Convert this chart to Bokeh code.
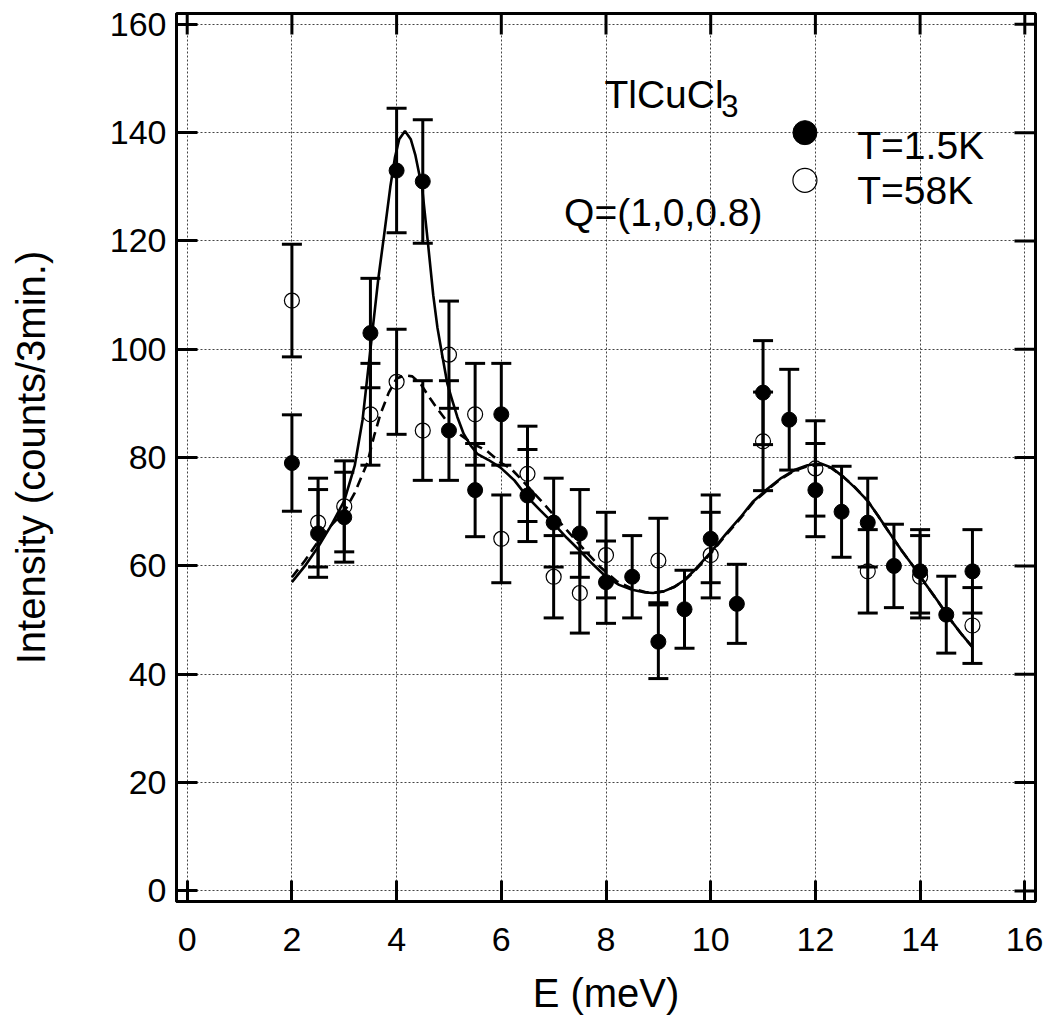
from bokeh.plotting import figure
from bokeh.models import Range1d, Whisker, ColumnDataSource, TeeHead, FixedTicker
from bokeh.core.properties import value
from bokeh.embed import file_html
from bokeh.resources import INLINE

# ---------------- data ----------------
E_1p5K = [2, 2.5, 3, 3.5, 4, 4.5, 5, 5.5, 6, 6.5, 7, 7.5, 8, 8.5, 9, 9.5, 10, 10.5,
          11, 11.5, 12, 12.5, 13, 13.5, 14, 14.5, 15]
I_1p5K = [79, 66, 69, 103, 133, 131, 85, 74, 88, 73, 68, 66, 57, 58, 46, 52, 65, 53,
          92, 87, 74, 70, 68, 60, 59, 51, 59]
dI_1p5K = [8.9, 8.1, 8.3, 10.1, 11.5, 11.4, 9.2, 8.6, 9.4, 8.5, 8.2, 8.1, 7.6, 7.6, 6.8, 7.2,
           8.1, 7.3, 9.6, 9.3, 8.6, 8.4, 8.2, 7.7, 7.7, 7.1, 7.7]

E_58K = [2, 2.5, 3, 3.5, 4, 4.5, 5, 5.5, 6, 6.5, 7, 7.5, 8, 9, 10, 11, 12, 13, 14, 15]
I_58K = [109, 68, 71, 88, 94, 85, 99, 88, 65, 77, 58, 55, 62, 61, 62, 83, 78, 59, 58, 49]
dI_58K = [10.4, 8.2, 8.4, 9.4, 9.7, 9.2, 9.9, 9.4, 8.1, 8.8, 7.6, 7.4, 7.9, 7.8, 7.9, 9.1,
          8.8, 7.7, 7.6, 7.0]

fit_E_1p5K = [2.0, 2.25, 2.5, 2.75, 3.0, 3.2, 3.35, 3.5, 3.65, 3.76, 3.88, 3.97, 4.05, 4.16,
              4.27, 4.36, 4.49, 4.6, 4.7, 4.78, 4.87, 4.97, 5.05, 5.16, 5.28, 5.41, 5.54,
              5.75, 5.98, 6.25, 6.5, 6.75, 7.0, 7.25, 7.5, 7.75, 8.0, 8.25, 8.5, 8.75, 8.9,
              9.1, 9.3, 9.5, 9.7, 10.0, 10.3, 10.57, 10.8, 11.08, 11.33, 11.6, 11.85, 12.1,
              12.3, 12.54, 12.75, 13.0, 13.2, 13.43, 13.65, 13.88, 14.1, 14.33, 14.6, 14.8, 15.0]
fit_I_1p5K = [57.0, 60.0, 63.5, 67.5, 72.0, 78.5, 87.0, 100.0, 113.0, 121.0, 130.0, 135.5,
              138.8, 140.3, 138.8, 135.8, 129.6, 119.5, 110.0, 104.0, 99.0, 93.6, 91.0, 87.5,
              84.4, 82.3, 80.7, 79.6, 78.2, 75.8, 72.7, 70.2, 67.8, 65.2, 62.8, 60.3, 58.0,
              56.5, 55.6, 55.1, 55.0, 55.3, 56.1, 57.4, 59.3, 62.5, 66.0, 69.0, 71.8, 74.2,
              76.1, 77.7, 78.6, 78.9, 78.2, 76.4, 74.5, 72.0, 69.2, 65.9, 62.8, 59.8, 56.7,
              53.6, 49.8, 47.3, 45.0]

fit_E_58K = [2.0, 2.25, 2.5, 2.75, 3.0, 3.2, 3.44, 3.57, 3.69, 3.85, 4.0, 4.15, 4.3, 4.46,
             4.6, 4.78, 5.0, 5.22, 5.45, 5.73, 6.0, 6.18, 6.4, 6.81, 7.26, 7.6, 7.89, 8.2,
             8.5, 8.75, 8.9, 9.1, 9.3, 9.5, 9.7, 10.0, 10.3, 10.57, 10.8, 11.08, 11.33, 11.6,
             11.85, 12.1, 12.3, 12.54, 12.75, 13.0, 13.2, 13.43, 13.65, 13.88, 14.1, 14.33,
             14.6, 14.8, 15.0]
fit_I_58K = [57.9, 61.0, 64.5, 67.5, 70.0, 73.5, 79.0, 84.0, 88.0, 92.0, 94.6, 95.2, 95.0,
             93.6, 91.5, 89.0, 86.2, 84.2, 82.6, 81.2, 79.0, 78.0, 75.8, 71.5, 66.5, 62.8,
             59.8, 57.2, 55.8, 55.2, 55.0, 55.3, 56.1, 57.3, 59.1, 62.3, 65.8, 68.8, 71.6,
             74.0, 76.0, 77.6, 78.4, 78.7, 78.1, 76.4, 74.6, 72.0, 69.2, 65.9, 62.8, 59.8,
             56.7, 53.6, 49.8, 47.3, 45.0]

x_ticks = [0, 2, 4, 6, 8, 10, 12, 14, 16]
y_ticks = [0, 20, 40, 60, 80, 100, 120, 140, 160]
x_label = "E (meV)"
y_label = "Intensity (counts/3min.)"
compound = "TlCuCl"
compound_sub = "3"
q_text = "Q=(1,0,0.8)"
legend_labels = ["T=1.5K", "T=58K"]

# ---------------- layout / style ----------------
FONT = "Liberation Sans"
TXT = "39px"
FW, FH = 859, 888
X_LO, X_HI = -0.2045, 16.2045
Y_LO, Y_HI = -1.96, 162.0
TICK = 21  # px, inward

p = figure(frame_width=FW, frame_height=FH,
           x_range=Range1d(X_LO, X_HI), y_range=Range1d(Y_LO, Y_HI),
           output_backend="svg", toolbar_location=None,
           min_border_left=176, min_border_right=8, min_border_top=13, min_border_bottom=118,
           background_fill_color="white", border_fill_color="white")

xax = p.xaxis[0]
yax = p.yaxis[0]
xax.ticker = FixedTicker(ticks=x_ticks)
yax.ticker = FixedTicker(ticks=y_ticks)

for ax in (xax, yax):
    ax.major_tick_in = TICK
    ax.major_tick_out = 0
    ax.minor_tick_in = 0
    ax.minor_tick_out = 0
    ax.major_tick_line_width = 3
    ax.major_tick_line_color = "black"
    ax.axis_line_width = 3
    ax.axis_line_color = "black"
    ax.major_label_text_font = FONT
    ax.major_label_text_font_size = "34px"
    ax.major_label_text_color = "black"
    ax.axis_label_text_font = FONT
    ax.axis_label_text_font_size = "40px"
    ax.axis_label_text_font_style = "normal"
    ax.axis_label_text_color = "black"

xax.axis_label = x_label
xax.major_label_standoff = 26
xax.axis_label_standoff = 17
yax.axis_label = y_label
yax.major_label_standoff = 10
yax.axis_label_standoff = 54

p.xgrid.ticker = FixedTicker(ticks=x_ticks)
p.ygrid.ticker = FixedTicker(ticks=y_ticks)
for g in (p.xgrid, p.ygrid):
    g.grid_line_color = "#444444"
    g.grid_line_dash = "2 2"
    g.grid_line_width = 1

p.outline_line_color = "black"
p.outline_line_width = 3

# mirrored inward ticks on the top and right edges
dx_tick = TICK * (X_HI - X_LO) / FW
dy_tick = TICK * (Y_HI - Y_LO) / FH
p.segment(x0=[X_HI] * len(y_ticks), x1=[X_HI - dx_tick] * len(y_ticks),
          y0=y_ticks, y1=y_ticks, line_color="black", line_width=3)
p.segment(x0=x_ticks, x1=x_ticks, y0=[Y_HI] * len(x_ticks), y1=[Y_HI - dy_tick] * len(x_ticks),
          line_color="black", line_width=3)

# error bars
src1 = ColumnDataSource(dict(x=E_1p5K, y=I_1p5K,
                             lo=[a - b for a, b in zip(I_1p5K, dI_1p5K)],
                             hi=[a + b for a, b in zip(I_1p5K, dI_1p5K)]))
src2 = ColumnDataSource(dict(x=E_58K, y=I_58K,
                             lo=[a - b for a, b in zip(I_58K, dI_58K)],
                             hi=[a + b for a, b in zip(I_58K, dI_58K)]))
for src in (src2, src1):
    w = Whisker(source=src, base="x", upper="hi", lower="lo",
                line_width=3, line_color="black",
                upper_head=TeeHead(size=20, line_width=3, line_color="black"),
                lower_head=TeeHead(size=20, line_width=3, line_color="black"))
    w.level = "glyph"
    p.add_layout(w)

# fit curves
p.line(fit_E_1p5K, fit_I_1p5K, line_color="black", line_width=2.6)
p.line(fit_E_58K, fit_I_58K, line_color="black", line_width=2.6, line_dash="10 6")

# data points
p.scatter(x="x", y="y", source=src2, size=15, marker="circle",
          fill_color=None, line_color="black", line_width=1.2)
p.scatter(x="x", y="y", source=src1, size=15, marker="circle",
          fill_color="black", line_color="black")

# legend (manual keys)
p.scatter(x=[11.8], y=[140.0], size=24, marker="circle", fill_color="black", line_color="black")
p.scatter(x=[11.8], y=[131.2], size=24, marker="circle", fill_color=None,
          line_color="black", line_width=1.2)
p.text(x=[12.8, 12.8], y=[137.6, 129.3], text=legend_labels,
       text_font=value(FONT), text_font_size=TXT, text_color="black",
       text_align="left", text_baseline="alphabetic")

# annotations
p.text(x=[7.97], y=[147.0], text=[compound], text_font=value(FONT), text_font_size=TXT,
       text_color="black", text_align="left", text_baseline="alphabetic")
p.text(x=[10.2], y=[145.0], text=[compound_sub], text_font=value(FONT), text_font_size="31px",
       text_color="black", text_align="left", text_baseline="alphabetic")
p.text(x=[7.2], y=[125.3], text=[q_text], text_font=value(FONT), text_font_size=TXT,
       text_color="black", text_align="left", text_baseline="alphabetic")

open("out.html", "w").write(file_html(p, INLINE))
